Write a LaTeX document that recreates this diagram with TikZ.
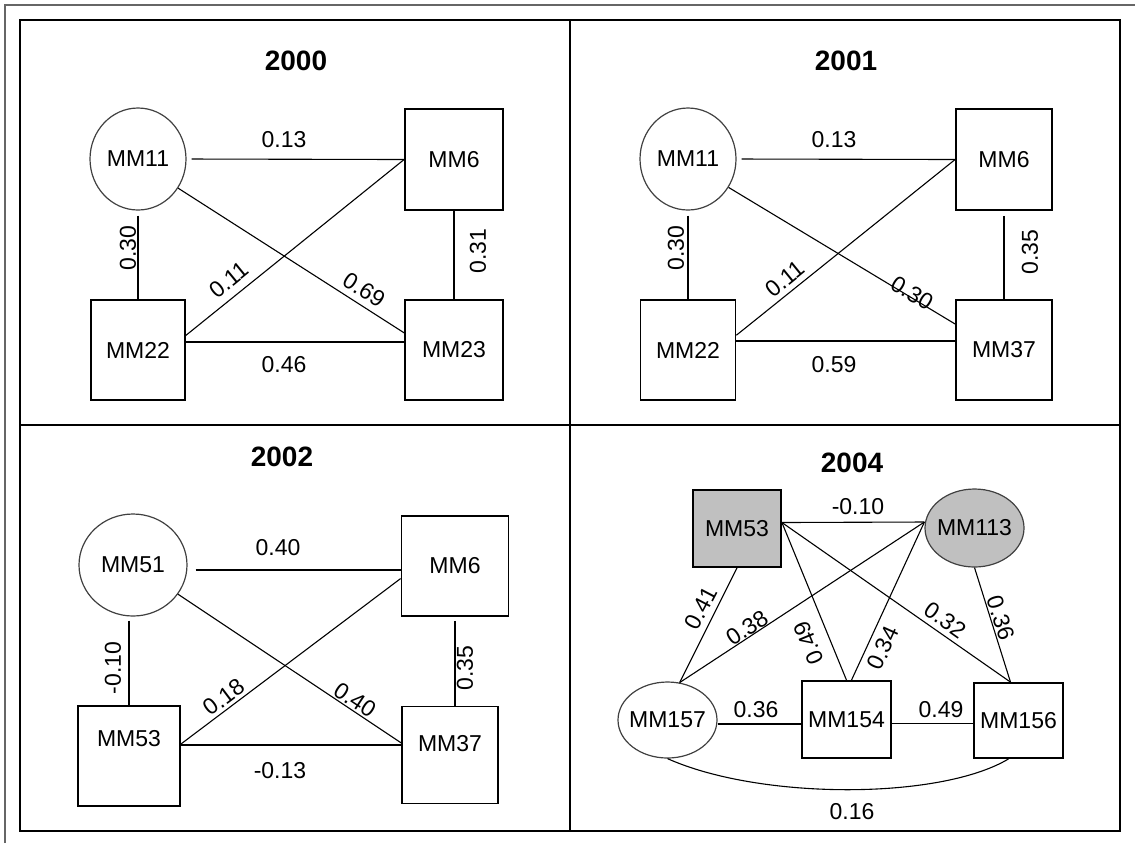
\documentclass[tikz,border=0pt]{standalone}
\usepackage{fontspec}
\setmainfont{Liberation Sans}
\usetikzlibrary{shapes.geometric}
\definecolor{nodegray}{HTML}{C0C0C0}
\begin{document}
\begin{tikzpicture}[x=0.5pt,y=-0.5pt,
  every node/.style={font=\fontsize{11.5}{13}\selectfont},
  boxnode/.style={draw,line width=0.9pt,inner sep=0pt},
  ovalnode/.style={ellipse,draw=black!75,line width=0.6pt,inner sep=-10pt},
  link/.style={line width=0.55pt},
  wlabel/.style={inner sep=0pt},
  paneltitle/.style={inner sep=0pt,font=\bfseries\fontsize{14}{16}\selectfont},
  frameline/.style={line width=1pt}]
\useasboundingbox (0,0) rectangle (1135,843);
% frames
\draw[frameline,draw=black!60] (5,843) -- (5,5) -- (1135,5);
\draw[frameline] (20,20) rectangle (1120,831);
\draw[frameline] (570,20) -- (570,831);
\draw[frameline] (20,425) -- (1120,425);

% ---------------- 2000 ----------------
\node[paneltitle] (t2000) at (296,61) {2000};
\node[ovalnode,minimum width=48pt,minimum height=51pt] (a11) at (138,159) {MM11};
\node[boxnode,minimum width=49pt,minimum height=50.5pt] (a6) at (454,159.5) {MM6};
\node[boxnode,minimum width=47pt,minimum height=50pt] (a22) at (138,350) {MM22};
\node[boxnode,minimum width=49pt,minimum height=50pt] (a23) at (454,350) {MM23};
\draw[link,shorten <=2.5pt] (a11.east) -- (a6.west);
\draw[link,shorten <=2.5pt] (a11.south) -- (a22.north);
\draw[link] (a6.south) -- (a23.north);
\draw[link] ([yshift=4pt]a22.east) -- ([yshift=4pt]a22.east -| a23.west);
\draw[link] (a11.-36) -- (a23.161);
\draw[link] (a6.west) -- (a22.17);
\node[wlabel] (a-l1) at (284,140) {0.13};
\node[wlabel,rotate=90] (a-l2) at (128,248) {0.30};
\node[wlabel,rotate=90] (a-l3) at (478,251) {0.31};
\node[wlabel] (a-l4) at (284,365) {0.46};
\node[wlabel,rotate=-32.7] (a-l5) at (364,290) {0.69};
\node[wlabel,rotate=39.3] (a-l6) at (229,280) {0.11};

% ---------------- 2001 ----------------
\node[paneltitle] (t2001) at (846,61) {2001};
\node[ovalnode,minimum width=48pt,minimum height=51pt] (b11) at (688,159) {MM11};
\node[boxnode,minimum width=48pt,minimum height=50.5pt] (b6) at (1004,159.5) {MM6};
\node[boxnode,minimum width=47.5pt,minimum height=50pt] (b22) at (688,350) {MM22};
\node[boxnode,minimum width=48pt,minimum height=50pt] (b37) at (1004,350) {MM37};
\draw[link,shorten <=2.5pt] (b11.east) -- (b6.west);
\draw[link,shorten <=2.5pt] (b11.south) -- (b22.north);
\draw[link,shorten <=2.5pt] (b6.south) -- (b37.north);
\draw[link] ([yshift=4.5pt]b22.east) -- ([yshift=4.5pt]b22.east -| b37.west);
\draw[link] (b11.-35) -- (b37.152.5);
\draw[link] (b6.west) -- (b22.17);
\node[wlabel] (b-l1) at (834,140) {0.13};
\node[wlabel,rotate=90] (b-l2) at (676,248) {0.30};
\node[wlabel,rotate=90] (b-l3) at (1030,252) {0.35};
\node[wlabel] (b-l4) at (834,365) {0.59};
\node[wlabel,rotate=-31.1] (b-l5) at (912,293) {0.30};
\node[wlabel,rotate=39.2] (b-l6) at (785,279) {0.11};

% ---------------- 2002 ----------------
\node[paneltitle] (t2002) at (282,457) {2002};
\node[ovalnode,minimum width=54pt,minimum height=51pt] (c51) at (133,565) {MM51};
\node[boxnode,minimum width=53.5pt,minimum height=50pt] (c6) at (455,566) {MM6};
\node[boxnode,minimum width=51pt,minimum height=50pt,text depth=18pt] (c53) at (129,756) {MM53};
\node[boxnode,minimum width=48pt,minimum height=48.5pt,text depth=12pt] (c37) at (450,755) {MM37};
\draw[link,shorten <=4pt] ([yshift=-2.5pt]c51.east) -- ([yshift=-2.5pt]c51.east -| c6.west);
\draw[link,shorten <=2pt] (c53.north |- c51.south) -- (c53.north);
\draw[link,shorten <=2pt] (c6.south) -- (c6.south |- c37.north);
\draw[link] ([yshift=5.5pt]c53.east) -- ([yshift=5.5pt]c53.east -| c37.west);
\draw[link] (c51.-33) -- (c37.166);
\draw[link] (c6.193) -- (c53.13);
\node[wlabel] (c-l1) at (278,548) {0.40};
\node[wlabel,rotate=90] (c-l2) at (113,668) {-0.10};
\node[wlabel,rotate=90] (c-l3) at (465,668) {0.35};
\node[wlabel] (c-l4) at (280,771) {-0.13};
\node[wlabel,rotate=-33.6] (c-l5) at (355,700) {0.40};
\node[wlabel,rotate=37] (c-l6) at (224,697) {0.18};

% ---------------- 2004 ----------------
\node[paneltitle] (t2004) at (852,463) {2004};
\node[boxnode,fill=nodegray,minimum width=44pt,minimum height=38.5pt] (d53) at (737,528.5) {MM53};
\node[ovalnode,fill=nodegray,minimum width=49.5pt,minimum height=39pt] (d113) at (974.5,528) {MM113};
\node[ovalnode,minimum width=49.5pt,minimum height=38pt] (d157) at (667.5,720) {MM157};
\node[boxnode,minimum width=44.5pt,minimum height=38.5pt] (d154) at (846.5,719.5) {MM154};
\node[boxnode,minimum width=44.5pt,minimum height=37.5pt] (d156) at (1018.5,720.5) {MM156};
\coordinate (d53e) at ([yshift=3pt]d53.east);
\coordinate (d113w) at ([yshift=3pt]d113.west);
\coordinate (d154n) at ([xshift=2.5pt]d154.north);
\coordinate (d156n) at ([xshift=-4pt]d156.north);
\draw[link] (d53e) -- (d113w);
\draw[link] (d53.south) -- (d157.72);
\draw[link] (d113w) -- (d157.72);
\draw[link] (d53e) -- (d154.north);
\draw[link] (d113w) -- (d154n);
\draw[link] (d53e) -- (d156n);
\draw[link] (d113.south) -- (d156n);
\draw[link] ([yshift=-2pt]d157.east) -- ([yshift=-2pt]d157.east -| d154.west);
\draw[link] ([yshift=-2pt]d154.east) -- ([yshift=-2pt]d154.east -| d156.west);
\draw[link] (d157.south) .. controls (760,800) and (940,800) .. ([xshift=-5pt]d156.south);
\node[wlabel] (d-l1) at (858,507) {-0.10};
\node[wlabel,rotate=62.4] (d-l2) at (701,608) {0.41};
\node[wlabel,rotate=33.3] (d-l3) at (747,628) {0.38};
\node[wlabel,rotate=112.5] (d-l4) at (809,643) {0.49};
\node[wlabel,rotate=65.6] (d-l5) at (883,648) {0.34};
\node[wlabel,rotate=-35.1] (d-l6) at (945,620) {0.32};
\node[wlabel,rotate=-73] (d-l7) at (1001,618) {0.36};
\node[wlabel] (d-l8) at (756,710) {0.36};
\node[wlabel] (d-l9) at (941,710) {0.49};
\node[wlabel] (d-l10) at (852,812) {0.16};
\end{tikzpicture}
\end{document}
